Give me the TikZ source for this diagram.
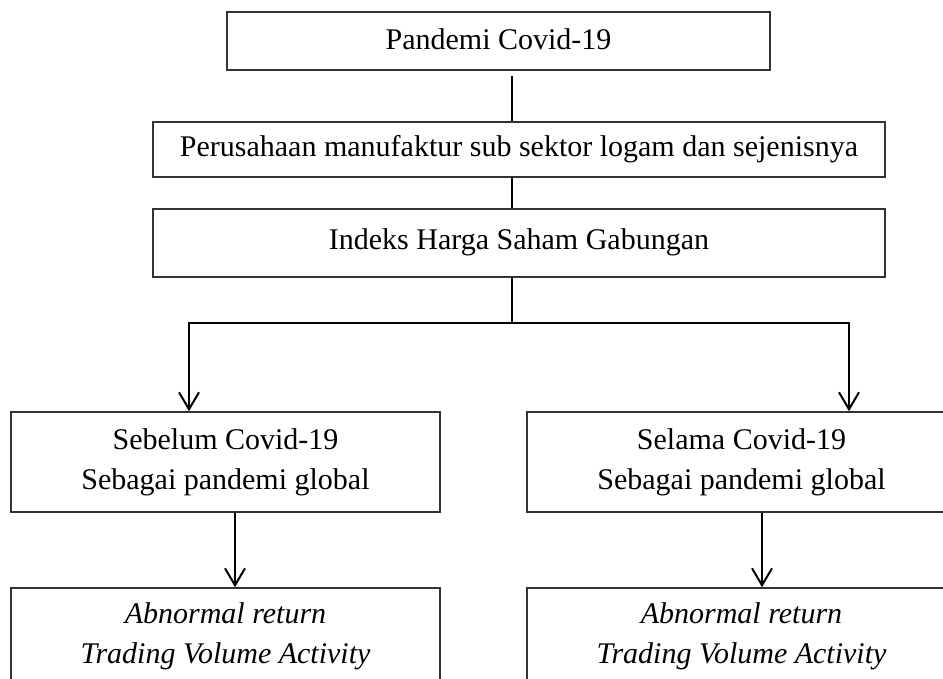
\documentclass[tikz,border=0pt]{standalone}
\usepackage{fontspec}
\setmainfont{Liberation Serif}
\usetikzlibrary{arrows.meta}
\begin{document}
\begin{tikzpicture}[x=0.5pt,y=-0.5pt,
  box/.style={draw=black!80, line width=0.75pt, rectangle, inner sep=0pt, align=center, font=\fontsize{15}{20}\selectfont},
  conn/.style={line width=1pt, draw=black},
  arr/.style={conn, -{Straight Barb[length=8.5pt,width=10pt,line width=1pt]}}]
\useasboundingbox (0,0) rectangle (943,679);
\clip (0,0) rectangle (943,679);
\node[box, minimum width=271.5pt, minimum height=29pt] (top) at (498.5,41) {\raisebox{2pt}{Pandemi Covid-19}};
\node[box, minimum width=366pt, minimum height=27.5pt] (b2) at (519,149.5) {Perusahaan manufaktur sub sektor logam dan sejenisnya};
\node[box, minimum width=366pt, minimum height=34pt] (b3) at (519,243) {\raisebox{3.5pt}{Indeks Harga Saham Gabungan}};
\node[box, minimum width=214.5pt, minimum height=50pt] (L) at (225.5,462) {Sebelum Covid-19\\Sebagai pandemi global};
\node[box, minimum width=214.5pt, minimum height=50pt] (R) at (741.5,462) {Selama Covid-19\\Sebagai pandemi global};
\node[box, minimum width=214.5pt, minimum height=48pt] (LB) at (225.5,636) {\textit{Abnormal return}\\\textit{Trading Volume Activity}};
\node[box, minimum width=214.5pt, minimum height=48pt] (RB) at (741.5,636) {\textit{Abnormal return}\\\textit{Trading Volume Activity}};
\coordinate (trunk) at (512,0);
\coordinate (split) at (512,323);
\coordinate (la) at (189,323);
\coordinate (ra) at (849,323);
\coordinate (lx) at (235,0);
\coordinate (rx) at (762,0);
\draw[conn] ([yshift=-2.5pt]top.south -| trunk) -- (b2.north -| trunk);
\draw[conn] (b2.south -| trunk) -- (b3.north -| trunk);
\draw[conn] (b3.south -| trunk) -- (split);
\draw[arr] (split) -- (la) -- (L.north -| la);
\draw[arr] (split) -- (ra) -- (R.north -| ra);
\draw[arr] (L.south -| lx) -- (LB.north -| lx);
\draw[arr] (R.south -| rx) -- (RB.north -| rx);
\end{tikzpicture}
\end{document}
